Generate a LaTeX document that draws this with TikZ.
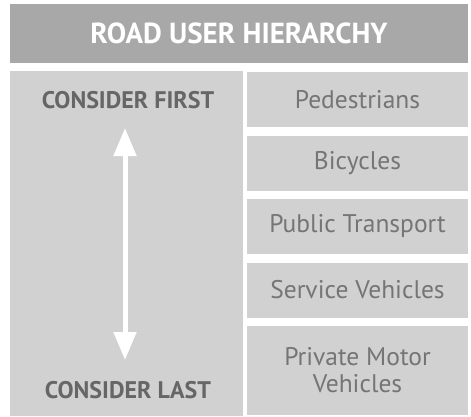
\documentclass[tikz,border=0pt]{standalone}
\usepackage{fontspec}
\setmainfont{PT Sans}
\usetikzlibrary{positioning, arrows.meta}

\definecolor{barGrey}{gray}{0.66}
\definecolor{panelGrey}{gray}{0.82}
\definecolor{strongText}{gray}{0.40}
\definecolor{userText}{gray}{0.46}

\begin{document}
\begin{tikzpicture}[
  x=1pt, y=-1pt,
  node distance=8.5pt,
  % Title bar
  titleBar/.style={rectangle, fill=barGrey, inner sep=0pt, outer sep=0pt,
    minimum width=458pt, minimum height=59pt, text=white,
    font=\fontsize{29}{32}\selectfont\bfseries},
  % Left panel and its two labels
  priorityPanel/.style={rectangle, fill=panelGrey, inner sep=0pt, outer sep=0pt,
    minimum width=233pt, minimum height=345pt},
  priorityLabel/.style={text=strongText, inner sep=0pt,
    font=\fontsize{24}{28}\selectfont\bfseries},
  % Road user boxes
  userBox/.style={rectangle, fill=panelGrey, inner sep=0pt, outer sep=0pt,
    minimum width=221pt, minimum height=55pt, text=userText, align=center,
    font=\fontsize{25.5}{27}\selectfont},
  updown/.style={white, line width=5pt, {Triangle[width=22pt,length=28pt]}-{Triangle[width=22pt,length=28pt]}}
  ]
  \useasboundingbox (0,0) rectangle (471,416);

  % --- Title ---
  \node[titleBar] (title) at (239,33.5) {ROAD USER HIERARCHY};

  % --- Left panel ---
  \node[priorityPanel] (panel) at (126.5,243.5) {};
  \node[priorityLabel] (first) at (128,100) {CONSIDER FIRST};
  \node[priorityLabel] (last) at (128,390) {CONSIDER LAST};
  \coordinate (arrowTop) at (125,128);
  \coordinate (arrowBot) at (125,360);
  \draw[updown] (arrowTop) -- (arrowBot);

  % --- Road users, first to last ---
  \node[userBox] (ped) at (357.5,99.5) {Pedestrians};
  \node[userBox, below=of ped] (bike) {Bicycles};
  \node[userBox, below=of bike] (bus) {Public Transport};
  \node[userBox, below=of bus] (service) {Service Vehicles};
  \node[userBox, below=of service, minimum height=89pt] (car) {Private Motor\\Vehicles};

\end{tikzpicture}
\end{document}
